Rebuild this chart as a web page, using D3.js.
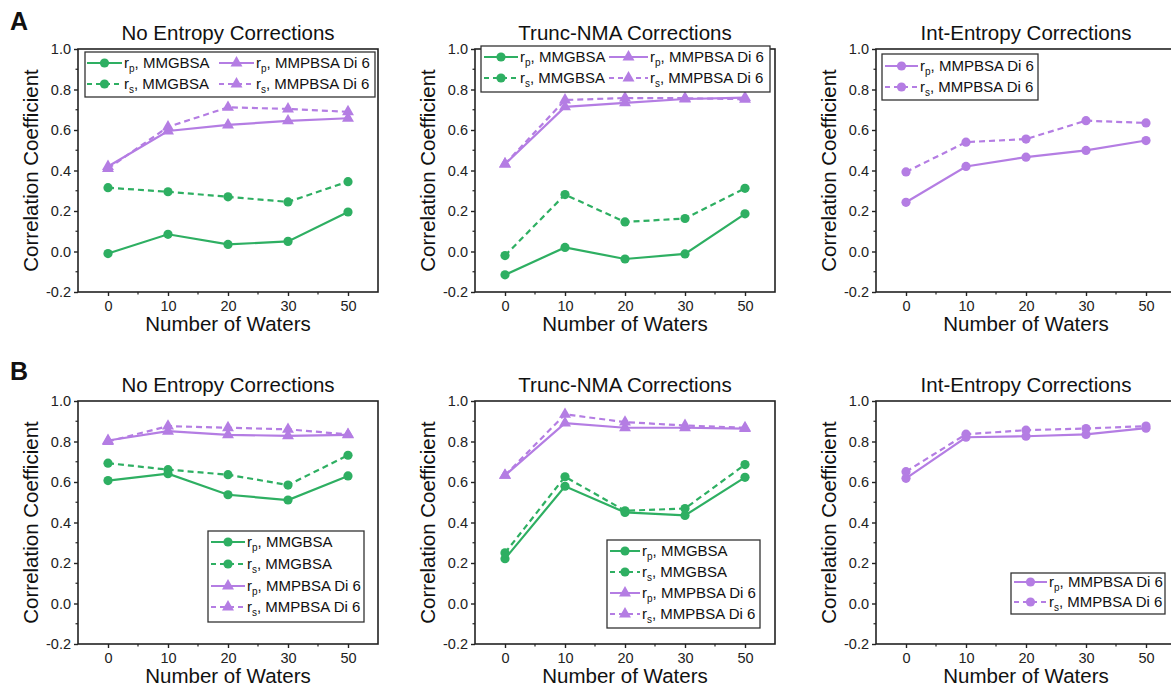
<!DOCTYPE html>
<html>
<head>
<meta charset="utf-8">
<script src="https://cdn.jsdelivr.net/npm/d3@7/dist/d3.min.js"></script>
<style>
  html, body { margin: 0; padding: 0; background: #fff; }
  svg { display: block; font-family: "Liberation Sans", Arial, sans-serif; }
</style>
</head>
<body>
<svg id="chart" width="1171" height="686"></svg>
<script>
// ---------- data ----------
const waters = ["0", "10", "20", "30", "50"];
const yTickValues = [-0.2, 0.0, 0.2, 0.4, 0.6, 0.8, 1.0];
const panelTitles = ["No Entropy Corrections", "Trunc-NMA Corrections", "Int-Entropy Corrections"];
const rowLabels = ["A", "B"];
const xAxisTitle = "Number of Waters";
const yAxisTitle = "Correlation Coefficient";

// Row A
const aNoRpGB  = [-0.010, 0.085, 0.035, 0.050, 0.195];
const aNoRsGB  = [0.315, 0.295, 0.270, 0.245, 0.345];
const aNoRpPB  = [0.420, 0.595, 0.625, 0.645, 0.658];
const aNoRsPB  = [0.410, 0.615, 0.712, 0.704, 0.690];
const aTrRpGB  = [-0.115, 0.020, -0.037, -0.012, 0.186];
const aTrRsGB  = [-0.020, 0.281, 0.146, 0.163, 0.312];
const aTrRpPB  = [0.432, 0.714, 0.734, 0.753, 0.760];
const aTrRsPB  = [0.432, 0.748, 0.758, 0.757, 0.752];
const aIntRp   = [0.243, 0.420, 0.466, 0.499, 0.548];
const aIntRs   = [0.393, 0.540, 0.555, 0.646, 0.635];
// Row B
const bNoRpGB  = [0.607, 0.641, 0.537, 0.511, 0.630];
const bNoRsGB  = [0.693, 0.661, 0.636, 0.585, 0.732];
const bNoRpPB  = [0.805, 0.851, 0.833, 0.828, 0.833];
const bNoRsPB  = [0.800, 0.876, 0.868, 0.860, 0.835];
const bTrRpGB  = [0.221, 0.579, 0.450, 0.435, 0.623];
const bTrRsGB  = [0.250, 0.626, 0.458, 0.469, 0.686];
const bTrRpPB  = [0.633, 0.891, 0.868, 0.868, 0.864];
const bTrRsPB  = [0.633, 0.934, 0.896, 0.879, 0.868];
const bIntRp   = [0.618, 0.821, 0.826, 0.835, 0.866];
const bIntRs   = [0.651, 0.836, 0.856, 0.864, 0.876];

// ---------- styles ----------
const GREEN = "#2eaf62";
const PURPLE = "#b47de3";
const AXIS = "#222";

function S(values, sub, method, color, dashed, marker) {
  return { values, sub, method, color, dashed, marker };
}
const fourSeries = (rpGB, rsGB, rpPB, rsPB) => [
  S(rpGB, "p", "MMGBSA", GREEN, false, "circle"),
  S(rsGB, "s", "MMGBSA", GREEN, true, "circle"),
  S(rpPB, "p", "MMPBSA Di 6", PURPLE, false, "triangle"),
  S(rsPB, "s", "MMPBSA Di 6", PURPLE, true, "triangle")
];
const twoSeries = (rp, rs) => [
  S(rp, "p", "MMPBSA Di 6", PURPLE, false, "circle"),
  S(rs, "s", "MMPBSA Di 6", PURPLE, true, "circle")
];

const colLeft = [78, 475, 876];
const plotW = 300;
const rowTop = [49, 401];
const plotH = 243;

const panels = [
  { r: 0, c: 0, series: fourSeries(aNoRpGB, aNoRsGB, aNoRpPB, aNoRsPB),
    legend: { x: 85, y: 52, w: 290, h: 45, cols: [[0,1],[2,3]], colX: [85, 217], textX: [123, 255], rowY: [63, 84] } },
  { r: 0, c: 1, series: fourSeries(aTrRpGB, aTrRsGB, aTrRpPB, aTrRsPB),
    legend: { x: 481, y: 46, w: 289, h: 46, cols: [[0,1],[2,3]], colX: [482, 607], textX: [519, 649], rowY: [57, 78] } },
  { r: 0, c: 2, series: twoSeries(aIntRp, aIntRs),
    legend: { x: 882, y: 54, w: 156, h: 46, cols: [[0,1]], colX: [883], textX: [919], rowY: [66, 87] } },
  { r: 1, c: 0, series: fourSeries(bNoRpGB, bNoRsGB, bNoRpPB, bNoRsPB),
    legend: { x: 208, y: 531, w: 156, h: 91, cols: [[0,1,2,3]], colX: [209], textX: [246], rowY: [542, 564, 586, 607] } },
  { r: 1, c: 1, series: fourSeries(bTrRpGB, bTrRsGB, bTrRpPB, bTrRsPB),
    legend: { x: 607, y: 540, w: 153, h: 88, cols: [[0,1,2,3]], colX: [608], textX: [641], rowY: [551, 572, 593, 614] } },
  { r: 1, c: 2, series: twoSeries(bIntRp, bIntRs),
    legend: { x: 1011, y: 573, w: 154, h: 41, cols: [[0,1]], colX: [1012], textX: [1048], rowY: [582, 602] } }
];

const svg = d3.select("#chart");

function drawMarker(g, type, x, y, color) {
  if (type === "circle") {
    g.append("circle").attr("cx", x).attr("cy", y).attr("r", 4.6).attr("fill", color);
  } else {
    g.append("path").attr("d", d3.symbol(d3.symbolTriangle, 62)())
      .attr("transform", `translate(${x},${y})`).attr("fill", color);
  }
}

// Row labels
rowLabels.forEach((lab, i) => {
  svg.append("text").attr("x", 10).attr("y", i === 0 ? 30 : 380)
    .attr("font-size", 25).attr("font-weight", "bold").attr("fill", "#111").text(lab);
});

panels.forEach(p => {
  const left = colLeft[p.c], top = rowTop[p.r];
  const right = left + plotW, bottom = top + plotH;
  const x = d3.scalePoint().domain(waters).range([left, right]).padding(0.5);
  const y = d3.scaleLinear().domain([-0.2, 1.0]).range([bottom, top]);
  const g = svg.append("g");

  // frame
  g.append("rect").attr("x", left).attr("y", top).attr("width", plotW).attr("height", plotH)
    .attr("fill", "none").attr("stroke", AXIS).attr("stroke-width", 1.6);

  // y axis
  const yAxis = d3.axisLeft(y).tickValues(yTickValues).tickFormat(d3.format(".1f")).tickSize(4).tickPadding(3);
  const ya = g.append("g").attr("transform", `translate(${left},0)`).call(yAxis);
  ya.select(".domain").remove();
  ya.selectAll("line").attr("stroke", AXIS).attr("stroke-width", 1.4);
  ya.selectAll("text").attr("font-size", 14.5).attr("fill", "#222")
    .attr("font-family", "Liberation Sans, Arial, sans-serif")
    .text(d => d3.format(".1f")(d).replace("−", "-"));
  // minor y ticks
  const yMinor = d3.range(-0.1, 1.0, 0.2);
  g.selectAll(null).data(yMinor).enter().append("line")
    .attr("x1", left - 2.5).attr("x2", left).attr("y1", d => y(d)).attr("y2", d => y(d))
    .attr("stroke", AXIS).attr("stroke-width", 1.2);

  // x axis
  const xAxis = d3.axisBottom(x).tickSize(4).tickPadding(5);
  const xa = g.append("g").attr("transform", `translate(0,${bottom})`).call(xAxis);
  xa.select(".domain").remove();
  xa.selectAll("line").attr("stroke", AXIS).attr("stroke-width", 1.4);
  xa.selectAll("text").attr("font-size", 14.5).attr("fill", "#222")
    .attr("font-family", "Liberation Sans, Arial, sans-serif");
  // minor x ticks (midpoints)
  const step = x.step();
  const xMinor = waters.slice(0, -1).map(w => x(w) + step / 2);
  g.selectAll(null).data(xMinor).enter().append("line")
    .attr("x1", d => d).attr("x2", d => d).attr("y1", bottom).attr("y2", bottom + 2.5)
    .attr("stroke", AXIS).attr("stroke-width", 1.2);

  // titles
  g.append("text").attr("x", left + plotW / 2).attr("y", top - 9).attr("text-anchor", "middle")
    .attr("font-size", 20.5).attr("fill", "#111").text(panelTitles[p.c]);
  g.append("text").attr("x", left + plotW / 2).attr("y", bottom + 39).attr("text-anchor", "middle")
    .attr("font-size", 20.5).attr("fill", "#111").text(xAxisTitle);
  g.append("text").attr("transform", `translate(${left - 40},${(top + bottom) / 2}) rotate(-90)`)
    .attr("text-anchor", "middle").attr("font-size", 20.5).attr("fill", "#111").text(yAxisTitle);

  // series
  const line = d3.line().x((d, i) => x(waters[i])).y(d => y(d));
  p.series.forEach(s => {
    g.append("path").attr("d", line(s.values)).attr("fill", "none")
      .attr("stroke", s.color).attr("stroke-width", 2.2)
      .attr("stroke-dasharray", s.dashed ? "6,4" : null);
  });
  p.series.forEach(s => {
    s.values.forEach((v, i) => drawMarker(g, s.marker, x(waters[i]), y(v), s.color));
  });

  // legend
  const L = p.legend;
  const lg = svg.append("g");
  lg.append("rect").attr("x", L.x).attr("y", L.y).attr("width", L.w).attr("height", L.h)
    .attr("fill", "#fff").attr("stroke", "#333").attr("stroke-width", 1.3);
  L.cols.forEach((idxs, ci) => {
    idxs.forEach((si, ri) => {
      const s = p.series[si];
      const ly = L.rowY[ri];
      const x0 = L.colX[ci] + 2, x1 = L.textX[ci] - 1;
      lg.append("line").attr("x1", x0).attr("x2", x1).attr("y1", ly).attr("y2", ly)
        .attr("stroke", s.color).attr("stroke-width", 2)
        .attr("stroke-dasharray", s.dashed ? "5,4" : null);
      drawMarker(lg, s.marker, (x0 + x1) / 2, ly, s.color);
      const t = lg.append("text").attr("x", L.textX[ci] + 1).attr("y", ly + 5)
        .attr("font-size", 15).attr("fill", "#111");
      t.append("tspan").text("r");
      t.append("tspan").attr("font-size", 10).attr("dy", 4).text(s.sub);
      t.append("tspan").attr("dy", -4).text(", " + s.method);
    });
  });
});
</script>
</body>
</html>
